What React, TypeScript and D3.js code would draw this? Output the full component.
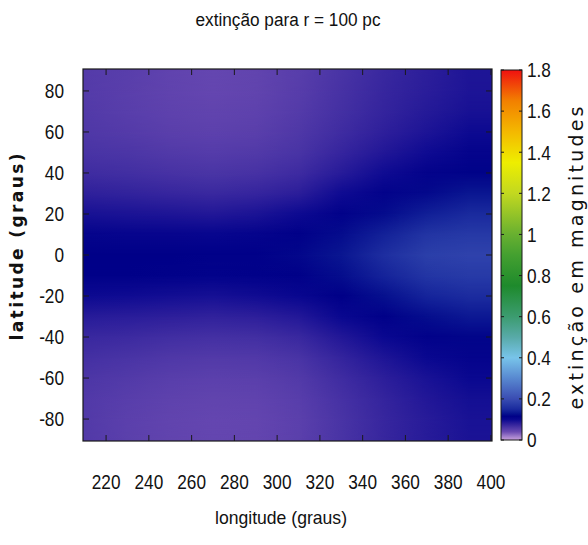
import React from 'react';
import * as d3 from 'd3';

// grid centres (graus)
const longitudes = [210, 230, 250, 270, 290, 310, 330, 350, 370, 390];
const latitudes = [90, 80, 70, 60, 50, 40, 30, 20, 10, 0, -10, -20, -30, -40, -50, -60, -70, -80, -90];

// extinção (mag), one row per latitude, columns follow longitudes
const extinction = [
  [0.055, 0.052, 0.047, 0.044, 0.046, 0.052, 0.062, 0.072, 0.080, 0.088], // 90
  [0.055, 0.051, 0.047, 0.044, 0.046, 0.053, 0.063, 0.073, 0.081, 0.089], // 80
  [0.056, 0.052, 0.048, 0.046, 0.048, 0.055, 0.065, 0.075, 0.084, 0.092], // 70
  [0.058, 0.055, 0.051, 0.049, 0.051, 0.058, 0.068, 0.079, 0.089, 0.098], // 60
  [0.062, 0.060, 0.056, 0.054, 0.056, 0.062, 0.074, 0.086, 0.097, 0.107], // 50
  [0.068, 0.066, 0.063, 0.061, 0.063, 0.069, 0.083, 0.097, 0.109, 0.117], // 40
  [0.078, 0.076, 0.073, 0.071, 0.074, 0.080, 0.097, 0.110, 0.122, 0.132], // 30
  [0.092, 0.090, 0.088, 0.086, 0.090, 0.098, 0.112, 0.124, 0.140, 0.150], // 20
  [0.107, 0.106, 0.105, 0.104, 0.108, 0.113, 0.124, 0.142, 0.163, 0.170], // 10
  [0.115, 0.115, 0.115, 0.116, 0.116, 0.120, 0.132, 0.156, 0.178, 0.184], // 0
  [0.113, 0.113, 0.112, 0.110, 0.112, 0.114, 0.125, 0.144, 0.165, 0.172], // -10
  [0.098, 0.097, 0.095, 0.093, 0.096, 0.102, 0.115, 0.127, 0.145, 0.153], // -20
  [0.083, 0.081, 0.079, 0.077, 0.079, 0.085, 0.100, 0.113, 0.125, 0.134], // -30
  [0.072, 0.070, 0.067, 0.065, 0.066, 0.072, 0.086, 0.100, 0.112, 0.119], // -40
  [0.065, 0.062, 0.058, 0.056, 0.057, 0.062, 0.075, 0.088, 0.100, 0.108], // -50
  [0.060, 0.056, 0.052, 0.050, 0.051, 0.056, 0.068, 0.080, 0.091, 0.100], // -60
  [0.057, 0.052, 0.048, 0.046, 0.047, 0.052, 0.064, 0.075, 0.086, 0.094], // -70
  [0.056, 0.050, 0.046, 0.044, 0.045, 0.050, 0.062, 0.073, 0.083, 0.091], // -80
  [0.056, 0.050, 0.046, 0.044, 0.045, 0.050, 0.062, 0.073, 0.083, 0.090], // -90
];

// palette
const paletteStops = [0, 0.02, 0.04, 0.06, 0.08, 0.1, 0.115, 0.13, 0.15, 0.18, 0.2, 0.3, 0.4, 0.5, 0.6, 0.75, 0.9, 1.0, 1.2, 1.35, 1.5, 1.65, 1.8];
const paletteColors = ['#c8a0dc', '#9a78c8', '#6a4ab2', '#4c36a6', '#2c1e9a', '#0a0890', '#000088', '#081490', '#1a2a9e', '#2c40aa', '#3a4cb2', '#5888d0', '#78c4ea', '#58aaa8', '#3c9c70', '#1e8a2c', '#44a030', '#68b030', '#c2d820', '#eeee00', '#f4b800', '#f28000', '#f01010'];

const xTicks = [220, 240, 260, 280, 300, 320, 340, 360, 380, 400];
const yTicks = [80, 60, 40, 20, 0, -20, -40, -60, -80];
const cbTicks = [0, 0.2, 0.4, 0.6, 0.8, 1, 1.2, 1.4, 1.6, 1.8];
const cbTickLabels = ['0', '0.2', '0.4', '0.6', '0.8', '1', '1.2', '1.4', '1.6', '1.8'];

const W = 588;
const H = 545;
const left = 83, right = 492, top = 69, bottom = 441;
const cbLeft = 501, cbRight = 522, cbTop = 70, cbBottom = 440;

const sans = "'Liberation Sans', Arial, sans-serif";
const squeeze = 0.82; // no narrow face installed, so condense by hand

export default function App() {
  const x = d3.scaleLinear().domain([209.2, 400.5]).range([left, right]);
  const y = d3.scaleLinear().domain([-90.7, 90.7]).range([bottom, top]);
  const cb = d3.scaleLinear().domain([0, 1.8]).range([cbBottom, cbTop]);
  const color = d3
    .scaleLinear<string>()
    .domain(paletteStops)
    .range(paletteColors)
    .interpolate(d3.interpolateRgb)
    .clamp(true);

  const gx0 = x(longitudes[0]);
  const gx1 = x(longitudes[longitudes.length - 1]);
  const tick = 6;
  const last = latitudes.length - 1;
  // whole-pixel row positions so the blended strips meet without seams
  const rowY = latitudes.map((lat) => Math.round(y(lat)));

  return (
    <svg width={W} height={H} style={{ position: 'absolute', left: 0, top: 0, background: '#fff' }}>
      <defs>
        <clipPath id="plotClip">
          <rect x={left} y={top} width={right - left} height={bottom - top} />
        </clipPath>
        {extinction.map((row, j) => (
          <linearGradient key={j} id={`row${j}`} gradientUnits="userSpaceOnUse" x1={gx0} y1={0} x2={gx1} y2={0}>
            {row.map((v, i) => (
              <stop key={i} offset={(x(longitudes[i]) - gx0) / (gx1 - gx0)} stopColor={color(v)} />
            ))}
          </linearGradient>
        ))}
        <linearGradient id="fadeGrad" x1="0" y1="0" x2="0" y2="1">
          <stop offset="0" stopColor="#fff" />
          <stop offset="1" stopColor="#000" />
        </linearGradient>
        <mask id="fadeDown" maskContentUnits="objectBoundingBox">
          <rect x={0} y={0} width={1} height={1} fill="url(#fadeGrad)" />
        </mask>
        <linearGradient id="cbGrad" x1="0" y1="1" x2="0" y2="0">
          {paletteStops.map((s, i) => (
            <stop key={i} offset={s / 1.8} stopColor={paletteColors[i]} />
          ))}
        </linearGradient>
      </defs>

      <text
        x={288}
        y={26}
        textAnchor="middle"
        fontFamily={sans}
        fontSize={18}
        textLength={185}
        lengthAdjust="spacingAndGlyphs"
        fill="#111"
      >
        extinção para r = 100 pc
      </text>

      {/* heat map: rows blended between latitude samples */}
      <g clipPath="url(#plotClip)" shapeRendering="crispEdges">
        <rect x={left - 2} y={top - 3} width={right - left + 4} height={rowY[0] - top + 3} fill="url(#row0)" />
        <rect x={left - 2} y={rowY[last]} width={right - left + 4} height={bottom - rowY[last] + 3} fill={`url(#row${last})`} />
        {latitudes.slice(0, -1).map((lat, j) => {
          const yA = rowY[j];
          const yB = rowY[j + 1];
          return (
            <g key={lat}>
              <rect x={left - 2} y={yA} width={right - left + 4} height={yB - yA} fill={`url(#row${j + 1})`} />
              <rect x={left - 2} y={yA} width={right - left + 4} height={yB - yA} fill={`url(#row${j})`} mask="url(#fadeDown)" />
            </g>
          );
        })}
      </g>

      {/* frame and ticks */}
      <rect x={left} y={top} width={right - left} height={bottom - top} fill="none" stroke="#1a1a1a" strokeWidth={1.2} />
      {xTicks.map((t) => (
        <g key={`x${t}`}>
          <line x1={x(t)} x2={x(t)} y1={bottom} y2={bottom - tick} stroke="#1a1a1a" />
          <line x1={x(t)} x2={x(t)} y1={top} y2={top + tick} stroke="#1a1a1a" />
          <text transform={`translate(${x(t)},489) scale(${squeeze},1)`} textAnchor="middle" fontFamily={sans} fontSize={21} fill="#111">
            {t}
          </text>
        </g>
      ))}
      {yTicks.map((t) => (
        <g key={`y${t}`}>
          <line x1={left} x2={left + tick} y1={y(t)} y2={y(t)} stroke="#1a1a1a" />
          <line x1={right} x2={right - tick} y1={y(t)} y2={y(t)} stroke="#1a1a1a" />
          <text transform={`translate(64,${y(t)}) scale(${squeeze},1)`} dy="0.35em" textAnchor="end" fontFamily={sans} fontSize={21} fill="#111">
            {t}
          </text>
        </g>
      ))}

      <text
        x={281}
        y={524}
        textAnchor="middle"
        fontFamily={sans}
        fontSize={19}
        textLength={132}
        lengthAdjust="spacingAndGlyphs"
        fill="#111"
      >
        longitude (graus)
      </text>
      <text
        transform="translate(23,247) rotate(-90)"
        textAnchor="middle"
        fontFamily="'DejaVu Sans', sans-serif"
        fontWeight="bold"
        fontSize={17}
        textLength={187}
        lengthAdjust="spacing"
        fill="#111"
      >
        latitude (graus)
      </text>

      {/* colour box */}
      <rect x={cbLeft} y={cbTop} width={cbRight - cbLeft} height={cbBottom - cbTop} fill="url(#cbGrad)" stroke="#1a1a1a" strokeWidth={1} />
      {cbTicks.map((t, i) => (
        <g key={`c${t}`}>
          <line x1={cbLeft} x2={cbLeft + 3} y1={cb(t)} y2={cb(t)} stroke="#1a1a1a" />
          <line x1={cbRight} x2={cbRight - 3} y1={cb(t)} y2={cb(t)} stroke="#1a1a1a" />
          <text transform={`translate(527,${cb(t)}) scale(${squeeze},1)`} dy="0.35em" fontFamily={sans} fontSize={21} fill="#111">
            {cbTickLabels[i]}
          </text>
        </g>
      ))}
      <text
        transform="translate(583,258) rotate(-90)"
        textAnchor="middle"
        fontFamily="'DejaVu Sans', sans-serif"
        fontSize={19}
        textLength={303}
        lengthAdjust="spacing"
        fill="#111"
      >
        extinção em magnitudes
      </text>
    </svg>
  );
}
